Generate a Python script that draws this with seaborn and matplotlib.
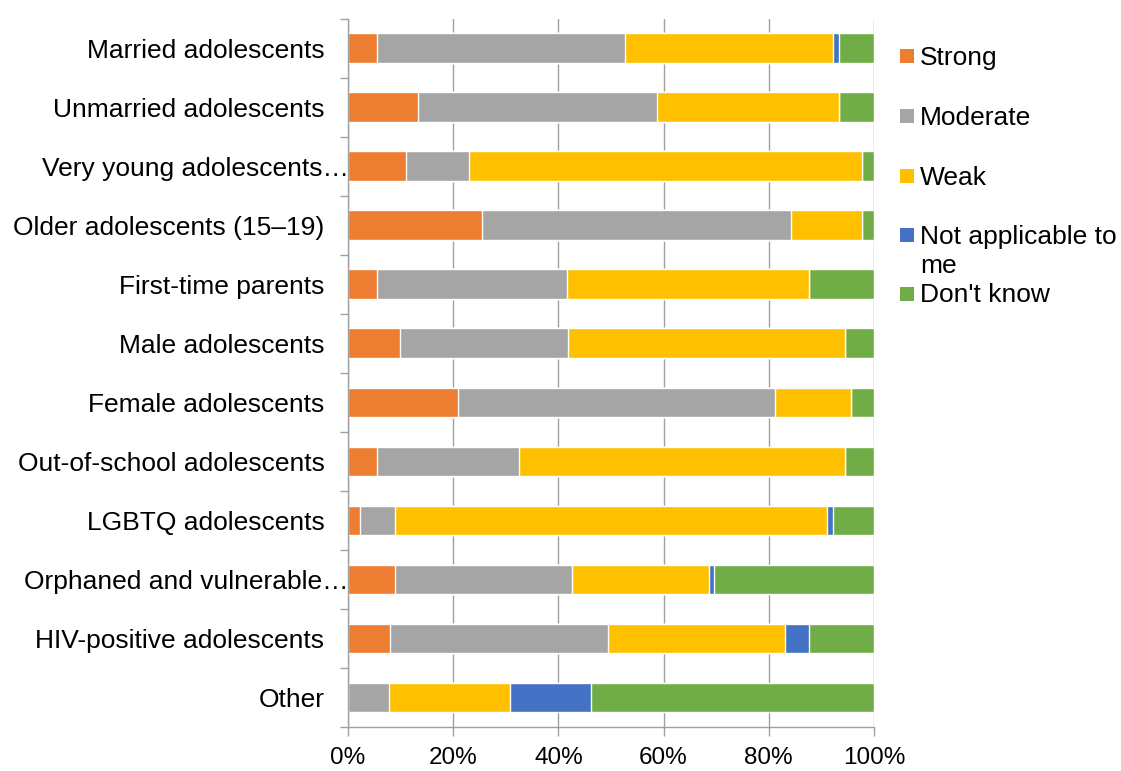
import matplotlib
matplotlib.use("Agg")
import matplotlib.pyplot as plt
import matplotlib.transforms as mtransforms
from matplotlib.patches import Rectangle
from matplotlib.ticker import FixedLocator
import numpy as np
import pandas as pd
import seaborn as sns

# Groups, listed top to bottom
groups = [
    "Married adolescents",
    "Unmarried adolescents",
    "Very young adolescents…",
    "Older adolescents (15–19)",
    "First-time parents",
    "Male adolescents",
    "Female adolescents",
    "Out-of-school adolescents",
    "LGBTQ adolescents",
    "Orphaned and vulnerable…",
    "HIV-positive adolescents",
    "Other",
]

# Share of responses (%) per rating
strong = [5.5, 13.3, 11.0, 25.5, 5.6, 9.9, 21.0, 5.6, 2.2, 9.0, 7.9, 0.0]
moderate = [47.1, 45.5, 12.0, 58.8, 36.0, 31.9, 60.2, 26.9, 6.7, 33.6, 41.5, 7.7]
weak = [39.7, 34.5, 74.8, 13.5, 46.0, 52.6, 14.4, 61.9, 82.1, 26.0, 33.7, 23.1]
not_applicable = [1.1, 0.0, 0.0, 0.0, 0.0, 0.0, 0.0, 0.0, 1.2, 1.0, 4.5, 15.4]
dont_know = [6.6, 6.7, 2.2, 2.2, 12.4, 5.6, 4.4, 5.6, 7.8, 30.4, 12.4, 53.8]

series_names = ["Strong", "Moderate", "Weak", "Not applicable to me", "Don't know"]
series_colors = ["#ED7D31", "#A5A5A5", "#FFC000", "#4472C4", "#70AD47"]

x_ticks = [0, 20, 40, 60, 80, 100]
x_tick_labels = ["0%", "20%", "40%", "60%", "80%", "100%"]

df = pd.DataFrame({
    "group": groups,
    "Strong": strong,
    "Moderate": moderate,
    "Weak": weak,
    "Not applicable to me": not_applicable,
    "Don't know": dont_know,
})
cum = df[series_names].cumsum(axis=1)

sns.set_theme(style="white")
plt.rcParams["font.family"] = ["Liberation Sans", "DejaVu Sans"]

W, H = 1121, 771
fig = plt.figure(figsize=(W / 100, H / 100), dpi=100)
ax = fig.add_axes([348 / W, 1 - 727 / H, (874 - 348) / W, (727 - 18.5) / H])

grid_gray = "#A0A0A0"
label_size = 19

# Stacked bars: draw running totals from the longest to the shortest
for name, color in zip(series_names[::-1], series_colors[::-1]):
    sns.barplot(x=cum[name], y=df["group"], order=groups, orient="h",
                color=color, width=0.5, saturation=1, ax=ax, zorder=2)

ax.set_xlim(0, 100)
ax.set_ylim(len(groups) - 0.5, -0.5)
ax.set_xlabel("")
ax.set_ylabel("")

ax.set_xticks(x_ticks)
ax.set_xticklabels(x_tick_labels, fontsize=17.5, color="black")
ax.xaxis.grid(True, color=grid_gray, linewidth=1.0, zorder=0)
ax.yaxis.grid(False)
ax.set_axisbelow(True)

for side in ["top", "right"]:
    ax.spines[side].set_visible(False)
for side in ["left", "bottom"]:
    ax.spines[side].set_color(grid_gray)
    ax.spines[side].set_linewidth(1.0)

ax.tick_params(axis="x", which="major", direction="out", length=6.5,
               width=1.0, color=grid_gray, pad=8, bottom=True)
ax.tick_params(axis="y", which="major", length=0, pad=17, labelsize=label_size,
               labelcolor="black", left=True)
ax.yaxis.set_minor_locator(FixedLocator(np.arange(-0.5, len(groups), 1.0)))
ax.tick_params(axis="y", which="minor", direction="out", length=5.5,
               width=1.0, color=grid_gray, left=True)

# Truncated labels sit closer to the axis
shift = mtransforms.ScaledTranslation(17.5 / 72, 0, fig.dpi_scale_trans)
for lab in ax.get_yticklabels():
    if lab.get_text().endswith("…"):
        lab.set_transform(lab.get_transform() + shift)

# Legend on the right
legend_rows = [
    ("Strong", 56.3),
    ("Moderate", 116.3),
    ("Weak", 176.3),
    ("Not applicable to", 235.3),
    ("Don't know", 293.7),
]
sq = 14
for (label, yc), color in zip(legend_rows, series_colors):
    fig.add_artist(Rectangle(((907 - sq / 2) / W, 1 - (yc + sq / 2) / H),
                             sq / W, sq / H, transform=fig.transFigure,
                             facecolor=color, edgecolor="none"))
    fig.text(920 / W, 1 - (yc + 1.5) / H, label, fontsize=label_size,
             va="center", ha="left", color="black")
fig.text(920 / W, 1 - 266 / H, "me", fontsize=label_size, va="center",
         ha="left", color="black")

fig.savefig("out.png", dpi=100, facecolor="white")
